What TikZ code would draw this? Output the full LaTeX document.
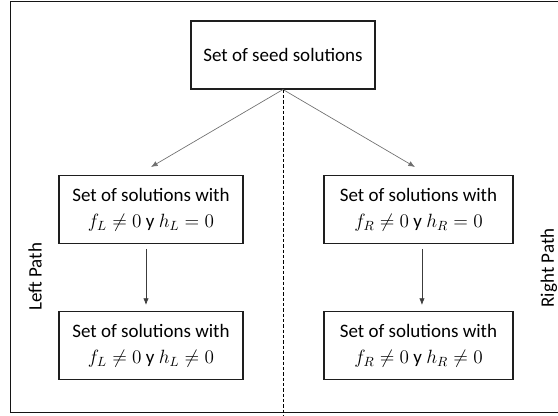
\documentclass[tikz,border=0pt]{standalone}
\usepackage{amsmath,amssymb}
\usepackage{fontspec}
\setmainfont{Carlito}
\usepackage{tikz}
\usetikzlibrary{arrows.meta}

\tikzset{
  setbox/.style={draw, color={rgb, 255:red, 30; green, 30; blue, 30}, text=black, line width=0.8pt, minimum width=138pt, minimum height=51pt, align=center, inner sep=0pt, font=\fontsize{14.25}{19.5}\selectfont},
  pathlabel/.style={rotate=90, inner sep=0pt, font=\fontsize{14.25}{17}\selectfont},
  flow/.style={-{Latex[length=5pt,width=4pt]}, line width=0.5pt}
}

\begin{document}
\begin{tikzpicture}[x=0.75pt,y=0.75pt,yscale=-1,xscale=1]
\useasboundingbox (0,0) rectangle (558,416);

%Frame
\draw [line width=1pt, color={rgb, 255:red, 20; green, 20; blue, 20}] (575,1.7) -- (10.7,1.7) -- (10.7,412.7) -- (575,412.7);

%Shape: Rectangle
\node [setbox] (seed) at (283,55) {Set of seed solutions};
%Shape: Rectangle
\node [setbox, minimum height=50.6pt] (leftA) at (151,209.5) {Set of solutions with\\ $f_L \neq 0$ y $h_L = 0$};
%Shape: Rectangle
\node [setbox, minimum height=50.6pt, minimum width=141.75pt] (rightA) at (418.5,209.5) {Set of solutions with\\ $f_R \neq 0$ y $h_R = 0$};
%Shape: Rectangle
\node [setbox] (leftB) at (151,345.5) {Set of solutions with\\ $f_L \neq 0$ y $h_L \neq 0$};
%Shape: Rectangle
\node [setbox, minimum width=141.75pt] (rightB) at (418.5,345.5) {Set of solutions with\\ $f_R \neq 0$ y $h_R \neq 0$};

\coordinate (ltip) at (151,167);
\coordinate (rtip) at (415,167);
\coordinate (dashend) at (283,420);

%Straight Lines
\draw [flow, color={rgb, 255:red, 110; green, 110; blue, 110}] (seed.south) -- (ltip);
%Straight Lines
\draw [flow, color={rgb, 255:red, 110; green, 110; blue, 110}] (seed.south) -- (rtip);
%Straight Lines
\draw [line width=0.6pt, dash pattern=on 2.5pt off 1.5pt] (seed.south) -- (dashend);
%Straight Lines
\draw [flow, color={rgb, 255:red, 60; green, 60; blue, 60}, shorten <=3.75pt, shorten >=4.5pt] ([xshift=-3.75pt]leftA.south) -- ([xshift=-3.75pt]leftB.north);
%Straight Lines
\draw [flow, color={rgb, 255:red, 60; green, 60; blue, 60}, shorten <=3.75pt, shorten >=4.5pt] ([xshift=2.6pt]rightA.south) -- ([xshift=2.6pt]rightB.north);

% Text Node
\node [pathlabel] (leftlbl) at (35,277) {Left Path};
% Text Node
\node [pathlabel] (rightlbl) at (549,268) {Right Path};
\end{tikzpicture}
\end{document}
